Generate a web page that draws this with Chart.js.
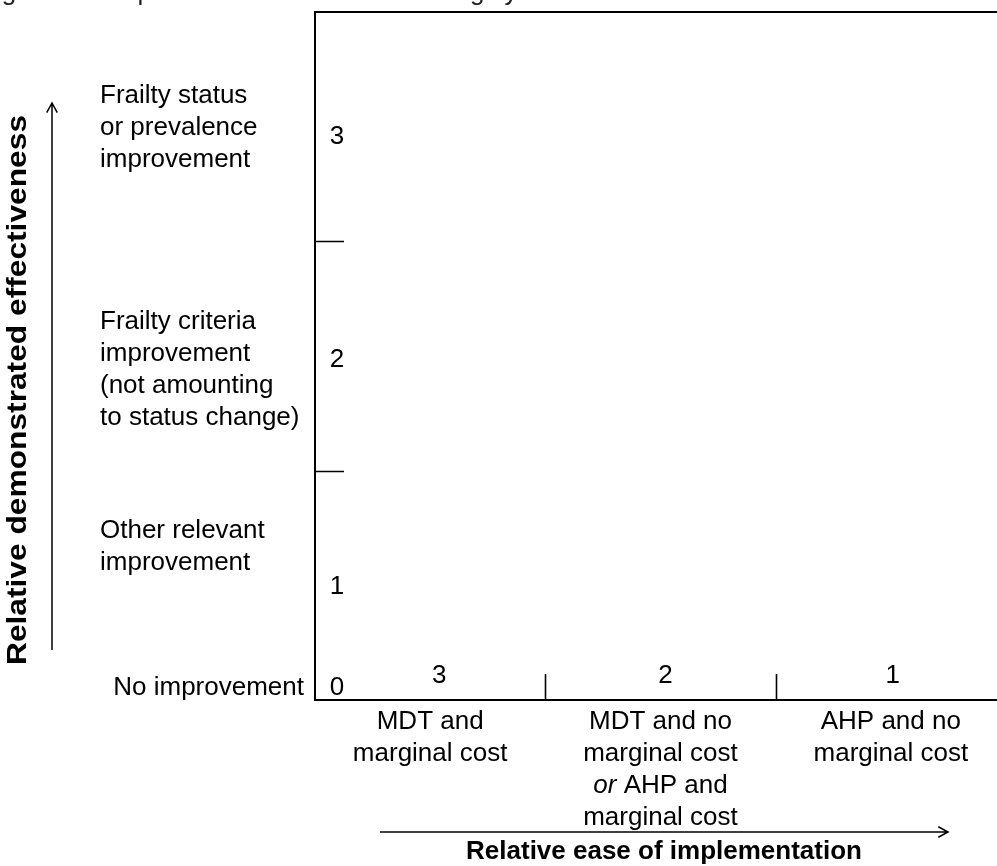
<!DOCTYPE html>
<html>
<head>
<meta charset="utf-8">
<script src="https://cdn.jsdelivr.net/npm/chart.js@4.4.1/dist/chart.umd.min.js"></script>
<style>
  html, body { margin: 0; padding: 0; background: #fff; overflow: hidden; }
  #wrap { position: absolute; left: 0; top: 0; width: 1010px; height: 866px; }
</style>
</head>
<body>
<div id="wrap"><canvas id="scoreChart" width="1010" height="866"></canvas></div>
<script>
// effectiveness levels, bottom (score 0) to top (score 3)
const effectScores = [0, 1, 2, 3];
const effectLabels = [
    ['No improvement'],
    ['Other relevant', 'improvement'],
    ['Frailty criteria', 'improvement', '(not amounting', 'to status change)'],
    ['Frailty status', 'or prevalence', 'improvement']
];

// ease of implementation, left to right
const easeScores = [3, 2, 1];
const easeLabels = [
    ['MDT and', 'marginal cost'],
    ['MDT and no', 'marginal cost', '*or* AHP and', 'marginal cost'],
    ['AHP and no', 'marginal cost']
];

// band boundaries where the short tick marks sit
const yBoundaries = [1, 2];
const xBoundaries = [1, 2];

const FONT = '"Liberation Sans", Arial, sans-serif';
const SIZE = 26;
const LINE = 32;

function drawArrow(ctx, x1, y1, x2, y2) {
    const ang = Math.atan2(y2 - y1, x2 - x1);
    const h = 11;
    ctx.beginPath();
    ctx.moveTo(x1, y1);
    ctx.lineTo(x2, y2);
    ctx.moveTo(x2 - h * Math.cos(ang - 0.5), y2 - h * Math.sin(ang - 0.5));
    ctx.lineTo(x2, y2);
    ctx.lineTo(x2 - h * Math.cos(ang + 0.5), y2 - h * Math.sin(ang + 0.5));
    ctx.stroke();
}

// draws a line of text, with *...* parts in italic, centred on x
function richLine(ctx, text, x, y) {
    const parts = text.split('*').filter(p => p !== '').map((p, i) => {
        const italic = text.startsWith('*') ? i % 2 === 0 : i % 2 === 1;
        return { text: p, font: (italic ? 'italic ' : '') + SIZE + 'px ' + FONT };
    });
    let total = 0;
    parts.forEach(p => { ctx.font = p.font; p.w = ctx.measureText(p.text).width; total += p.w; });
    let cx = x - total / 2;
    ctx.textAlign = 'left';
    parts.forEach(p => { ctx.font = p.font; ctx.fillText(p.text, cx, y); cx += p.w; });
}

const scoringGrid = {
    id: 'scoringGrid',
    afterDraw(chart) {
        const ctx = chart.ctx;
        const { left, top, right, bottom } = chart.chartArea;
        const xs = chart.scales.x;
        const ys = chart.scales.y;
        ctx.save();
        ctx.strokeStyle = '#000';
        ctx.fillStyle = '#000';

        // frame
        ctx.lineWidth = 2;
        ctx.beginPath();
        ctx.moveTo(right, top);
        ctx.lineTo(left, top);
        ctx.lineTo(left, bottom);
        ctx.lineTo(right, bottom);
        ctx.stroke();

        // short inner ticks
        ctx.lineWidth = 1.6;
        ctx.beginPath();
        yBoundaries.forEach(v => {
            const py = Math.round(ys.getPixelForValue(v)) + 0.5;
            ctx.moveTo(left, py);
            ctx.lineTo(left + 29, py);
        });
        xBoundaries.forEach(v => {
            const px = Math.round(xs.getPixelForValue(v)) + 0.5;
            ctx.moveTo(px, bottom);
            ctx.lineTo(px, bottom - 26);
        });
        ctx.stroke();

        ctx.font = SIZE + 'px ' + FONT;
        ctx.textBaseline = 'middle';
        ctx.textAlign = 'center';

        // score numbers on the effectiveness axis
        const yNudge = [0, 1, 4, 10];
        effectScores.forEach(s => {
            const py = s === 0 ? bottom - 12 : ys.getPixelForValue(s - 0.5) + yNudge[s];
            ctx.fillText(String(s), left + 22, py);
        });

        // score numbers on the ease axis
        const xNudge = [9, 5, 2];
        easeScores.forEach((s, i) => {
            ctx.fillText(String(s), xs.getPixelForValue(i + 0.5) + xNudge[i], bottom - 24);
        });

        // effectiveness level descriptions
        const nudge = [0, -39, 14, 1];
        effectLabels.forEach((lines, s) => {
            if (s === 0) {
                ctx.textAlign = 'right';
                ctx.fillText(lines[0], left - 11, bottom - 12);
                return;
            }
            ctx.textAlign = 'left';
            const mid = ys.getPixelForValue(s - 0.5) + nudge[s];
            const y0 = mid - (lines.length - 1) * LINE / 2;
            lines.forEach((t, k) => ctx.fillText(t, 100, y0 + k * LINE));
        });

        // ease descriptions below the axis
        easeLabels.forEach((lines, i) => {
            const px = xs.getPixelForValue(i + 0.5);
            lines.forEach((t, k) => richLine(ctx, t, px, bottom + 22 + k * LINE));
        });

        // axis titles and arrows
        ctx.font = 'bold ' + SIZE + 'px ' + FONT;
        ctx.textAlign = 'center';
        ctx.fillText('Relative ease of implementation', 664, 852);
        ctx.save();
        ctx.translate(18, 390);
        ctx.rotate(-Math.PI / 2);
        ctx.scale(1.22, 1.05);
        ctx.fillText('Relative demonstrated effectiveness', 0, 0);
        ctx.restore();

        ctx.lineWidth = 1.5;
        drawArrow(ctx, 380, 832, 948, 832);
        drawArrow(ctx, 52, 650, 52, 103);

        // caption, cut off at the top edge of the page
        ctx.font = SIZE + 'px ' + FONT;
        ctx.fillStyle = '#222';
        ctx.textAlign = 'left';
        ctx.textBaseline = 'alphabetic';
        ctx.fillText('Figure 1 Comparison of intervention scoring system', -20, 0);
        ctx.restore();
    }
};

new Chart(document.getElementById('scoreChart'), {
    type: 'scatter',
    data: { datasets: [{ data: [], pointRadius: 0 }] },
    options: {
        responsive: false,
        animation: false,
        devicePixelRatio: 1,
        layout: { padding: { left: 315, top: 12, right: 4, bottom: 166 } },
        scales: {
            x: { type: 'linear', min: 0, max: 3, display: false },
            y: { type: 'linear', min: 0, max: 3, display: false }
        },
        plugins: { legend: { display: false }, tooltip: { enabled: false } }
    },
    plugins: [scoringGrid]
});
</script>
</body>
</html>
